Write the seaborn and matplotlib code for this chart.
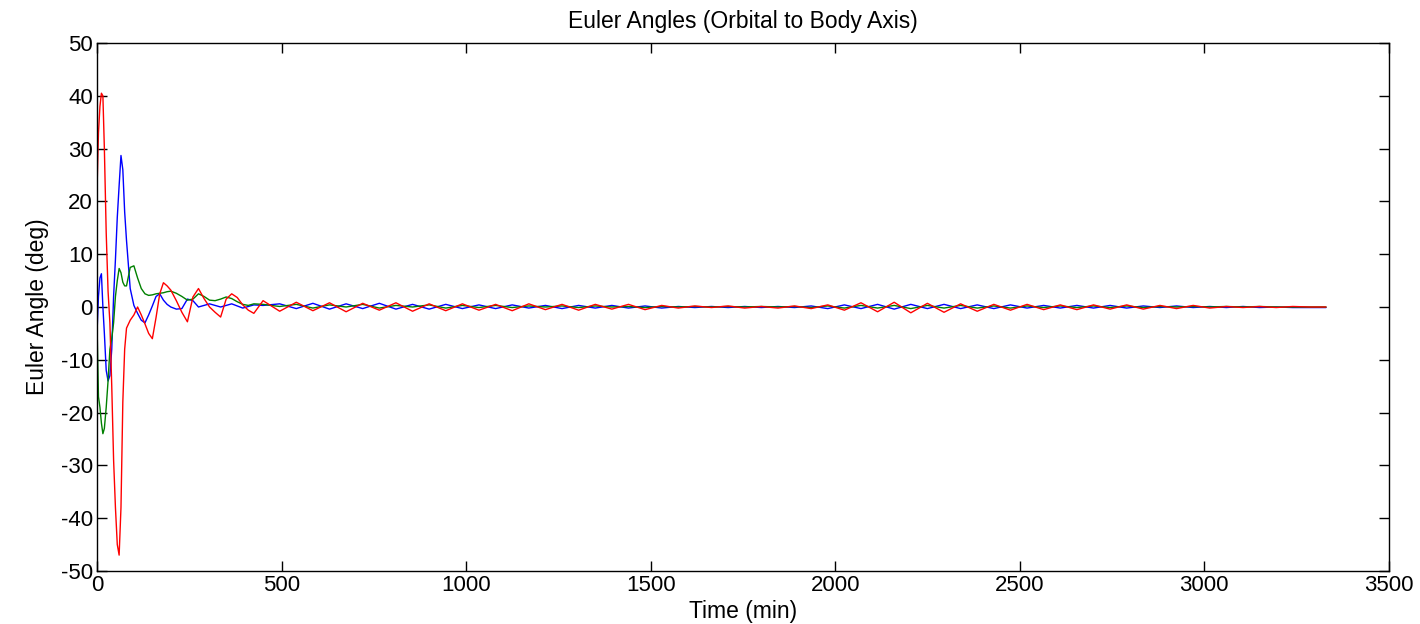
import numpy as np
import pandas as pd
import matplotlib
matplotlib.use("Agg")
import matplotlib.pyplot as plt
import seaborn as sns

# time grid (min): dense early part, then coarse tail
t_early = [0, 4, 8, 12, 16, 20, 25, 30, 35, 40, 45, 50, 55, 60, 65, 70, 75, 80,
           90, 100, 110, 120, 130, 140, 150, 160, 170, 180, 190, 200, 215, 230,
           245, 260, 275, 290, 305, 320, 335, 350, 365, 380, 395, 410, 425]
t_tail = list(range(450, 3331, 45))
time = t_early + t_tail

# Euler angles (deg)
blue_early = [-5, 2, 5.5, 6.3, 0, -5, -12, -14, -13, -8, 2, 9, 17, 23, 28.7, 26, 18, 12.6,
              3.5, 0.3, -1.2, -2.5, -3, -1.5, 0.2, 2, 2.5, 1.3, 0.5, 0, -0.4, -0.3,
              1.5, 1.2, 0, 0.3, 0.6, 0.3, 0, 0.3, 0.6, 0.2, -0.2, 0.1, 0.4]
green_early = [-3, -17, -19, -22, -24, -23, -19, -14, -8, -6, -3, 2, 5, 7.3, 6.5, 4.7, 4, 4,
               7.5, 7.8, 5.5, 3.5, 2.5, 2.2, 2.3, 2.5, 2.6, 2.7, 2.9, 3, 2.6, 2,
               1.3, 1.5, 2.5, 2, 1.3, 1.2, 1.5, 1.9, 1.6, 1, 0.5, 0.3, 0.6]
red_early = [22, 33, 38, 40.5, 40, 30, 14, 3, -3, -15, -29, -38, -45, -47, -38, -18, -8, -4,
             -2.5, -1.5, 0, -1.5, -3.2, -5, -6, -2, 2.5, 4.6, 4, 3.2, 1.2, -1,
             -2.8, 1.9, 3.5, 1.6, 0, -1, -1.9, 1.5, 2.5, 1.8, 0.4, -0.6, -1.2]

blue_tail = [0.3, 0.6, -0.3, 0.7, -0.4, 0.6, -0.3, 0.7, -0.4, 0.5, -0.4, 0.5, -0.3, 0.4,
             -0.3, 0.4, -0.2, 0.3, -0.3, 0.3, -0.2, 0.3, -0.2, 0.2, -0.2, 0.1, -0.1, 0.1,
             -0.1, 0.1, -0.1, 0.1, -0.1, 0.2, -0.3, 0.4, -0.3, 0.5, -0.4, 0.5, -0.3, 0.5,
             -0.3, 0.4, -0.3, 0.4, -0.2, 0.3, -0.2, 0.3, -0.2, 0.3, -0.2, 0.2, -0.1, 0.2,
             -0.1, 0.1, -0.1, 0.1, -0.1, 0.0, -0.1, -0.1, -0.1]
green_tail = [0.5, 0.1, 0.5, -0.2, 0.4, 0.0, 0.5, -0.2, 0.3, 0.0, 0.4, -0.2, 0.3, -0.1,
              0.3, -0.1, 0.2, 0.0, 0.2, -0.1, 0.2, 0.0, 0.1, -0.1, 0.1, 0.0, 0.1, 0.0,
              0.1, 0.0, 0.1, 0.0, 0.1, -0.1, 0.2, -0.2, 0.3, -0.2, 0.3, -0.3, 0.3, -0.2,
              0.3, -0.2, 0.2, -0.2, 0.2, -0.1, 0.2, -0.1, 0.2, -0.1, 0.2, -0.1, 0.1, 0.0,
              0.1, 0.0, 0.1, 0.0, 0.1, 0.0, 0.0, 0.0, 0.0]
red_tail = [1.2, -0.8, 0.9, -0.7, 0.8, -0.9, 0.7, -0.6, 0.8, -0.8, 0.6, -0.7, 0.6, -0.6,
            0.5, -0.7, 0.6, -0.5, 0.5, -0.6, 0.5, -0.4, 0.5, -0.5, 0.3, -0.2, 0.2, -0.1,
            0.2, -0.2, 0.1, -0.2, 0.2, -0.3, 0.4, -0.6, 0.8, -0.9, 0.9, -1.1, 0.7, -1.0,
            0.6, -0.8, 0.5, -0.6, 0.5, -0.5, 0.4, -0.5, 0.4, -0.4, 0.4, -0.4, 0.3, -0.3,
            0.3, -0.2, 0.1, -0.1, 0.1, -0.1, 0.1, 0.0, 0.0]

series = ["phi", "theta", "psi"]
colors = {"phi": "#0000ff", "theta": "#008000", "psi": "#ff0000"}

df = pd.concat([
    pd.DataFrame({"time": time, "angle": blue_early + blue_tail, "axis": "phi"}),
    pd.DataFrame({"time": time, "angle": green_early + green_tail, "axis": "theta"}),
    pd.DataFrame({"time": time, "angle": red_early + red_tail, "axis": "psi"}),
])

sns.set_style("ticks")
plt.rcParams["font.family"] = ["Liberation Sans", "DejaVu Sans"]
plt.rcParams["axes.unicode_minus"] = False
plt.rcParams["text.color"] = "black"
plt.rcParams["axes.labelcolor"] = "black"

fig = plt.figure(figsize=(14.2, 6.24), dpi=100)
ax = fig.add_axes([0.0683, 0.085, 0.9097, 0.846])

sns.lineplot(data=df, x="time", y="angle", hue="axis", hue_order=series,
             palette=colors, linewidth=1.0, legend=False, sort=False,
             estimator=None, ax=ax)

ax.set_xlim(0, 3500)
ax.set_ylim(-50, 50)
ax.set_xticks(np.arange(0, 3501, 500))
ax.set_yticks(np.arange(-50, 51, 10))
ax.tick_params(direction="in", top=True, right=True, length=7, width=1,
               labelsize=16, colors="black", pad=3)
for s in ax.spines.values():
    s.set_linewidth(1.0)
    s.set_color("black")

ax.set_title("Euler Angles (Orbital to Body Axis)", fontsize=16.5, pad=11)
ax.set_xlabel("Time (min)", fontsize=16.5, labelpad=3)
ax.set_ylabel("Euler Angle (deg)", fontsize=16.5, labelpad=8)

fig.savefig("out.png", dpi=100)
